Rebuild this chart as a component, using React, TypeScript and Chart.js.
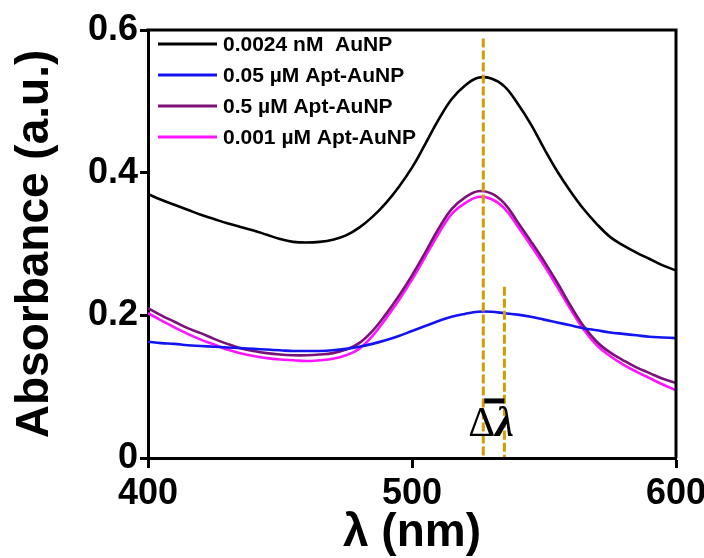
import React, { useEffect, useRef } from "react";
import { Chart, registerables } from "chart.js";

Chart.register(...registerables);

// ---- data ----
const wavelengths = [
  400, 405, 410, 415, 420, 425, 430, 435, 440, 445, 450, 455, 460, 465, 470, 475, 480, 485, 490, 495, 500,
  505, 510, 515, 520, 525, 530, 535, 540, 545, 550, 555, 560, 565, 570, 575, 580, 585, 590, 595, 600,
];
const auNP = [
  0.370, 0.362, 0.355, 0.348, 0.341, 0.335, 0.329, 0.324, 0.319, 0.313, 0.307, 0.303, 0.302, 0.303, 0.306, 0.312, 0.323, 0.338, 0.357, 0.380, 0.407,
  0.440, 0.474, 0.503, 0.522, 0.533, 0.532, 0.521, 0.497, 0.468, 0.434, 0.402, 0.374, 0.349, 0.328, 0.310, 0.298, 0.288, 0.279, 0.270, 0.263,
];
const apt005 = [
  0.163, 0.161, 0.160, 0.158, 0.157, 0.156, 0.155, 0.154, 0.153, 0.152, 0.151, 0.150, 0.150, 0.150, 0.151, 0.153, 0.156, 0.160, 0.165, 0.171, 0.178,
  0.185, 0.192, 0.198, 0.202, 0.205, 0.205, 0.203, 0.201, 0.198, 0.194, 0.190, 0.186, 0.182, 0.179, 0.176, 0.174, 0.172, 0.170, 0.169, 0.168,
];
const apt05 = [
  0.210, 0.200, 0.191, 0.182, 0.175, 0.167, 0.160, 0.154, 0.150, 0.147, 0.145, 0.144, 0.144, 0.145, 0.147, 0.152, 0.161, 0.178, 0.201, 0.227, 0.256,
  0.288, 0.321, 0.349, 0.365, 0.374, 0.371, 0.357, 0.331, 0.304, 0.276, 0.246, 0.214, 0.185, 0.163, 0.148, 0.137, 0.127, 0.119, 0.111, 0.105,
];
const apt0001 = [
  0.203, 0.193, 0.183, 0.174, 0.166, 0.159, 0.152, 0.147, 0.143, 0.140, 0.138, 0.137, 0.136, 0.137, 0.139, 0.144, 0.153, 0.171, 0.195, 0.221, 0.250,
  0.282, 0.314, 0.342, 0.357, 0.366, 0.363, 0.350, 0.325, 0.298, 0.270, 0.240, 0.209, 0.180, 0.158, 0.143, 0.131, 0.121, 0.112, 0.103, 0.095,
];

const seriesLabels = ["0.0024 nM  AuNP", "0.05 µM Apt-AuNP", "0.5 µM Apt-AuNP", "0.001 µM Apt-AuNP"];
const seriesColors = ["#000000", "#1414f0", "#7a127a", "#ff14ff"];

const xTicks = [400, 500, 600];
const yTicks = [0, 0.2, 0.4, 0.6];

// peak-shift markers (nm) and their top values
const shiftX = [527, 535];
const shiftTop = [0.588, 0.24];
const shiftBarY = 0.08;
const shiftText = ["Δ", "λ"];

const xTitle = "λ (nm)";
const yTitle = "Absorbance (a.u.)";

const SANS = "'Liberation Sans', Arial, Helvetica, sans-serif";

const framePlugin = {
  id: "frame",
  afterDatasetsDraw(chart: any) {
    const { ctx, chartArea, scales } = chart;
    const { left, right, top, bottom } = chartArea;
    ctx.save();
    // frame top & right
    ctx.strokeStyle = "#000";
    ctx.lineWidth = 3;
    ctx.beginPath();
    ctx.moveTo(left - 1.5, top);
    ctx.lineTo(right, top);
    ctx.lineTo(right, bottom);
    ctx.stroke();

    // dashed peak lines
    ctx.strokeStyle = "#d39b06";
    ctx.lineWidth = 3;
    ctx.setLineDash([9, 3]);
    shiftX.forEach((v, i) => {
      const px = scales.x.getPixelForValue(v);
      ctx.beginPath();
      ctx.moveTo(px, scales.y.getPixelForValue(shiftTop[i]));
      ctx.lineTo(px, bottom - 1);
      ctx.stroke();
    });
    ctx.setLineDash([]);

    // bar joining the two lines
    const x1 = scales.x.getPixelForValue(shiftX[0]);
    const x2 = scales.x.getPixelForValue(shiftX[1]);
    const by = scales.y.getPixelForValue(shiftBarY);
    ctx.fillStyle = "#000";
    ctx.fillRect(x1 + 1, by - 2.5, x2 - x1 - 1, 5);

    // Δλ text
    ctx.textBaseline = "alphabetic";
    ctx.textAlign = "left";
    ctx.font = "42px 'Liberation Serif', 'DejaVu Serif', serif";
    const tx = x1 - 15;
    const ty = bottom - 22;
    ctx.fillText(shiftText[0], tx, ty);
    const w = ctx.measureText(shiftText[0]).width;
    ctx.font = "italic bold 42px 'Liberation Serif', 'DejaVu Serif', serif";
    ctx.fillText(shiftText[1], tx + w, ty);

    // legend
    ctx.font = "bold 21px " + SANS;
    ctx.textBaseline = "middle";
    chart.data.datasets.forEach((ds: any, i: number) => {
      const y = top + 14 + i * 31;
      ctx.strokeStyle = ds.borderColor;
      ctx.lineWidth = 3;
      ctx.beginPath();
      ctx.moveTo(left + 10, y);
      ctx.lineTo(left + 69, y);
      ctx.stroke();
      ctx.fillStyle = "#000";
      ctx.fillText(ds.label, left + 75, y + 1);
    });
    ctx.restore();
  },
};

export default function App() {
  const ref = useRef<HTMLCanvasElement | null>(null);
  useEffect(() => {
    if (!ref.current) return;
    const datasets = [auNP, apt005, apt05, apt0001].map((vals, i) => ({
      label: seriesLabels[i],
      data: wavelengths.map((x, j) => ({ x, y: vals[j] })),
      borderColor: seriesColors[i],
      backgroundColor: seriesColors[i],
      borderWidth: 2.6,
      pointRadius: 0,
      tension: 0.4,
      fill: false,
    }));
    const tickFont = { family: SANS, size: 36, weight: "bold" as const };
    const titleFont = { family: SANS, size: 46, weight: "bold" as const };
    const chart = new Chart(ref.current, {
      type: "line",
      data: { datasets: datasets as any },
      options: {
        animation: false,
        responsive: false,
        layout: { padding: { top: 30, right: 28, left: 0, bottom: 0 } },
        plugins: { legend: { display: false }, tooltip: { enabled: false } },
        scales: {
          x: {
            type: "linear",
            min: 400,
            max: 600,
            afterBuildTicks: (s: any) => {
              s.ticks = xTicks.map((v) => ({ value: v }));
            },
            ticks: { font: tickFont, color: "#000", padding: 4, maxRotation: 0, autoSkip: false },
            grid: { display: true, drawOnChartArea: false, drawTicks: true, tickLength: 10, tickWidth: 3, tickColor: "#000" },
            border: { display: true, width: 3, color: "#000" },
            title: { display: true, text: xTitle, font: titleFont, color: "#000", padding: { top: 0, bottom: -3 } },
            afterFit: (s: any) => {
              s.height = 100;
              s.paddingLeft = 0;
              s.paddingRight = 0;
            },
          },
          y: {
            type: "linear",
            min: 0,
            max: 0.6,
            afterBuildTicks: (s: any) => {
              s.ticks = yTicks.map((v) => ({ value: v }));
            },
            ticks: {
              font: tickFont,
              color: "#000",
              padding: 2,
              autoSkip: false,
              callback: (v: any) => (v === 0 ? "0" : Number(v).toFixed(1)),
            },
            grid: { display: true, drawOnChartArea: false, drawTicks: true, tickLength: 8, tickWidth: 3, tickColor: "#000" },
            border: { display: true, width: 3, color: "#000" },
            title: { display: true, text: yTitle, font: titleFont, color: "#000", padding: { top: 8, bottom: 0 } },
            afterFit: (s: any) => {
              s.width = 148;
              s.paddingTop = 0;
              s.paddingBottom = 0;
            },
          },
        },
      },
      plugins: [framePlugin],
    });
    return () => chart.destroy();
  }, []);
  return (
    <div style={{ position: "fixed", left: 0, top: 0, width: 704, height: 558, background: "#fff" }}>
      <canvas ref={ref} width={704} height={558} style={{ width: 704, height: 558, display: "block" }} />
    </div>
  );
}
